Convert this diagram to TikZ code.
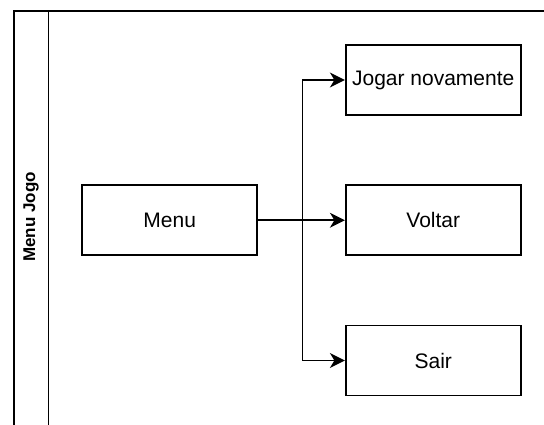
\documentclass[tikz,border=0pt]{standalone}
\usepackage{fontspec}
\setmainfont{Liberation Sans}
\usetikzlibrary{arrows.meta}
\begin{document}
\begin{tikzpicture}[x=1pt,y=-1pt,
  lw/.style={line width=1.7pt},
  boxnode/.style={draw, lw, minimum width=175pt, minimum height=70pt, inner sep=0pt,
    font=\fontsize{21}{25}\selectfont},
  lanepart/.style={draw, lw, inner sep=0pt, anchor=north west},
  conn/.style={lw, -{Stealth[length=15pt,width=15pt,inset=4.5pt]}}]
  \fill[white] (0,0) rectangle (544,425);
  \clip (0,0) rectangle (544,425);
  % swimlane container
  \node[lanepart, minimum width=34.5pt, minimum height=600pt] (head) at (13,10) {};
  \node[lanepart, minimum width=700pt, minimum height=600pt] (body) at (47.5,10) {};
  \node[rotate=90, font=\bfseries\fontsize{17}{20}\selectfont] (title) at (31,217) {Menu Jogo};
  % boxes
  \node[boxnode] (menu) at (169.75,220.25) {Menu};
  \node[boxnode] (jogar) at (433.25,80) {Jogar novamente};
  \node[boxnode] (voltar) at (433.25,220.25) {Voltar};
  \node[boxnode] (sair) at (433.25,360.5) {Sair};
  \coordinate (bus) at (302.5,220.25);
  % connectors
  \draw[conn] (menu.east) -- (voltar.west);
  \draw[conn] (menu.east) -- (bus) |- (jogar.west);
  \draw[conn] (menu.east) -- (bus) |- (sair.west);
\end{tikzpicture}
\end{document}
